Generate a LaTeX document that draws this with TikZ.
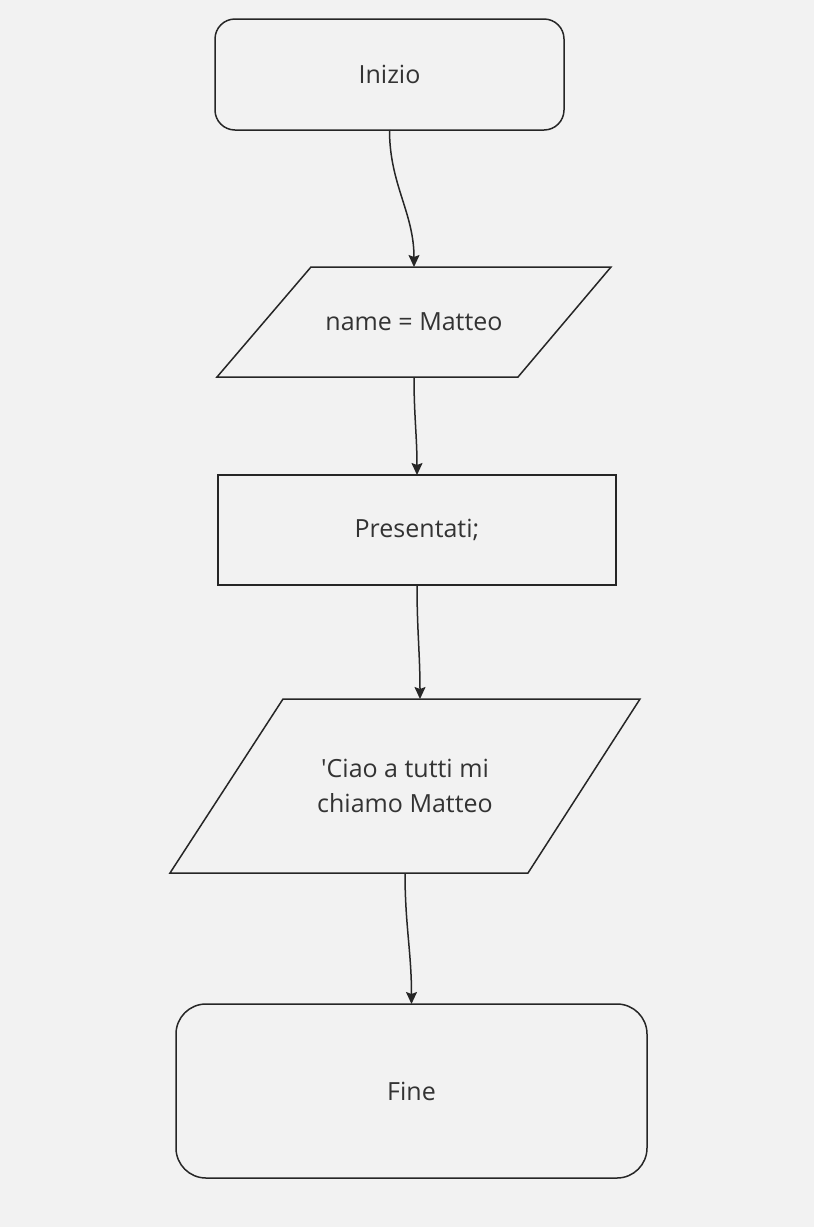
\documentclass[tikz,border=0pt]{standalone}
\usepackage{fontspec}
\setmainfont{Open Sans}
\usepackage{tikz}
\usetikzlibrary{arrows.meta}
\definecolor{sfondo}{HTML}{F2F2F2}
\definecolor{linea}{HTML}{262626}
\definecolor{testo}{HTML}{333333}

\begin{document}
\begin{tikzpicture}[x=1pt,y=1pt,
    every node/.style={font=\fontsize{25}{35}\selectfont, text=testo},
    contorno/.style={draw=linea, line width=1.5pt},
    blocco/.style={contorno, outer sep=0pt, align=center},
    terminale/.style={blocco, rectangle, rounded corners=20pt},
    dati/.style={outer sep=0pt, inner sep=0pt, align=center},
    freccia/.style={draw=linea, line width=1.5pt, -{Stealth[length=12pt,width=11pt,inset=2pt]}}]
    \fill[sfondo] (0,0) rectangle (814,-1227);
    \node[terminale, minimum width=349, minimum height=111] (inizio) at (389.5,-74.5) {Inizio};
    \node[dati, minimum width=394, minimum height=110] (nome) at (414,-322) {name = Matteo};
    \draw[contorno] (nome.south west) -- ([xshift=94]nome.north west) -- (nome.north east) -- ([xshift=-93]nome.south east) -- cycle;
    \node[blocco, minimum width=398, minimum height=110] (presenta) at (417,-530) {Presentati;};
    \node[dati, minimum width=470, minimum height=174] (saluto) at (405,-786) {\textquotesingle Ciao a tutti mi\\chiamo Matteo};
    \draw[contorno] (saluto.south west) -- ([xshift=113]saluto.north west) -- (saluto.north east) -- ([xshift=-112]saluto.south east) -- cycle;
    \node[terminale, rounded corners=30pt, minimum width=471, minimum height=174] (fine) at (411.5,-1091) {Fine};
    \draw[freccia] (inizio.south) to[out=-90,in=90] (nome.north);
    \draw[freccia] (nome.south) to[out=-90,in=90] (presenta.north);
    \draw[freccia] (presenta.south) to[out=-90,in=90] ([xshift=15pt]saluto.north);
    \draw[freccia] (saluto.south) to[out=-90,in=90] (fine.north);
\end{tikzpicture}
\end{document}
